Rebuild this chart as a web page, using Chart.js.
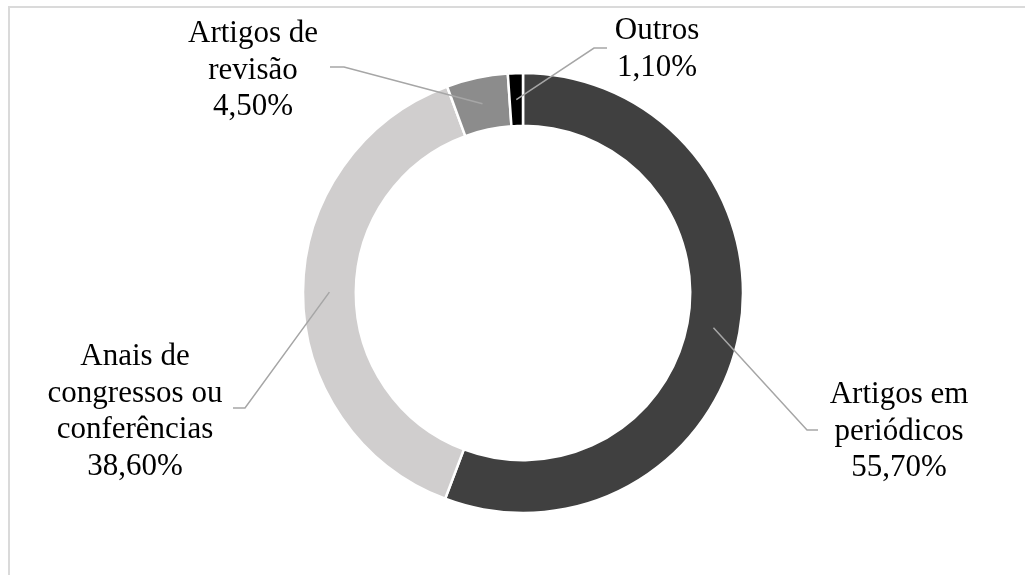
<!DOCTYPE html>
<html>
<head>
<meta charset="utf-8">
<script src="https://cdn.jsdelivr.net/npm/chart.js@4.4.1/dist/chart.umd.min.js"></script>
<style>
    html, body { margin: 0; padding: 0; background: #fff; }
    #wrap { position: relative; width: 1025px; height: 575px; overflow: hidden; }
    #frame {
        position: absolute; left: 8px; top: 6px; width: 1100px; height: 700px;
        border: 2px solid #dadada; box-sizing: border-box;
    }
    #fontWarm { position: absolute; left: -999px; font-family: "Liberation Serif"; font-size: 31px; }
    canvas { position: absolute; left: 0; top: 0; }
</style>
</head>
<body>
<div id="wrap">
    <div id="frame"></div>
    <span id="fontWarm">Outros 1,10%</span>
    <canvas id="chart" width="1025" height="575"></canvas>
</div>
<script>
// ========================
// DATA
// ========================
const categories = [
    ['Artigos em', 'periódicos'],
    ['Anais de', 'congressos ou', 'conferências'],
    ['Artigos de', 'revisão'],
    ['Outros']
];
const shares = [55.7, 38.6, 4.5, 1.1];
const sliceColors = ['#404040', '#d0cece', '#8c8c8c', '#000000'];

// label placement: text centre, first baseline, leader elbow and leader end
const labelLayout = [
    { x: 899, y: 403, elbowX: 807, elbowY: 430, endX: 818 },
    { x: 135, y: 365, elbowX: 245, elbowY: 408, endX: 233 },
    { x: 253, y: 42,  elbowX: 344, elbowY: 67,  endX: 330 },
    { x: 657, y: 39,  elbowX: 594, elbowY: 48,  endX: 607 }
];

const labelFont = '31px "Liberation Serif", "Times New Roman", serif';

function formatShare(v) {
    return v.toFixed(2).replace('.', ',') + '%';
}

// ========================
// LABELS WITH LEADER LINES
// ========================
const leaderLabels = {
    id: 'leaderLabels',
    afterDatasetsDraw(chart) {
        const ctx = chart.ctx;
        const arcs = chart.getDatasetMeta(0).data;
        ctx.save();
        arcs.forEach(function(arc, i) {
            const lay = labelLayout[i];
            const start = arc.tooltipPosition();

            ctx.strokeStyle = '#a6a6a6';
            ctx.lineWidth = 1.5;
            ctx.beginPath();
            ctx.moveTo(start.x, start.y);
            ctx.lineTo(lay.elbowX, lay.elbowY);
            ctx.lineTo(lay.endX, lay.elbowY);
            ctx.stroke();

            const lines = categories[i].concat([formatShare(shares[i])]);
            ctx.fillStyle = '#000';
            ctx.font = labelFont;
            ctx.textAlign = 'center';
            ctx.textBaseline = 'alphabetic';
            lines.forEach(function(line, k) {
                ctx.fillText(line, lay.x, lay.y + k * 36.5);
            });
        });
        ctx.restore();
    }
};

// ========================
// CHART
// ========================
function drawChart() {
    new Chart(document.getElementById('chart'), {
        type: 'doughnut',
        data: {
            labels: categories,
            datasets: [{
                data: shares,
                backgroundColor: sliceColors,
                borderColor: '#ffffff',
                borderWidth: 2.5
            }]
        },
        options: {
            responsive: false,
            animation: false,
            radius: 220,
            cutout: '76%',
            layout: { padding: { left: 21, right: 0, top: 20, bottom: 9 } },
            plugins: {
                legend: { display: false },
                tooltip: { enabled: false }
            }
        },
        plugins: [leaderLabels]
    });
}

document.fonts.load(labelFont).then(drawChart, drawChart);
</script>
</body>
</html>
